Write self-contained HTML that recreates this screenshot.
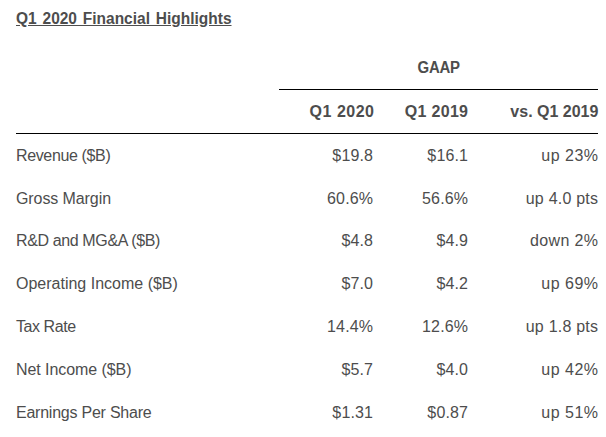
<!DOCTYPE html>
<html>
<head>
<meta charset="utf-8">
<style>
html,body{margin:0;padding:0;background:#fff;width:606px;height:437px;overflow:hidden;}
body{position:relative;font-family:"Liberation Sans",sans-serif;color:#4d4d4d;font-size:16px;}
.t{position:absolute;white-space:nowrap;line-height:20px;height:20px;}
.b{font-weight:bold;}
.r{text-align:right;}
.line{position:absolute;height:1px;background:#000;}
</style>
</head>
<body>
<div class="t b" style="left:15.5px;top:8.5px;word-spacing:1.6px;transform:scaleX(0.968);transform-origin:0 10px;text-decoration:underline;">Q1 2020 Financial Highlights</div>
<div class="t b" style="left:278.6px;width:319px;text-align:center;top:57.5px;letter-spacing:-0.3px;text-indent:0.3px;transform:scaleX(0.935);transform-origin:159.5px 10px;">GAAP</div>
<div class="line" style="left:279px;width:319px;top:89px;"></div>
<div class="t r b" style="right:231.50px;top:101.5px;letter-spacing:0.5px;">Q1 2020</div>
<div class="t r b" style="right:137.67px;top:101.5px;letter-spacing:0.33px;">Q1 2019</div>
<div class="t r b" style="right:7.60px;top:101.5px;">vs. Q1 2019</div>
<div class="line" style="left:16px;width:582px;top:133px;"></div>
<div class="t" style="left:16px;top:145.5px;letter-spacing:-0.36px;">Revenue ($B)</div>
<div class="t r" style="right:232.85px;top:145.5px;letter-spacing:0.15px;">$19.8</div>
<div class="t r" style="right:137.85px;top:145.5px;letter-spacing:0.15px;">$16.1</div>
<div class="t r" style="right:7.50px;top:145.5px;letter-spacing:0.5px;">up 23%</div>
<div class="t" style="left:16px;top:188.5px;letter-spacing:-0.09px;">Gross Margin</div>
<div class="t r" style="right:232.85px;top:188.5px;letter-spacing:0.15px;">60.6%</div>
<div class="t r" style="right:137.85px;top:188.5px;letter-spacing:0.15px;">56.6%</div>
<div class="t r" style="right:7.78px;top:188.5px;letter-spacing:0.22px;">up 4.0 pts</div>
<div class="t" style="left:16px;top:231px;letter-spacing:-0.375px;">R&amp;D and MG&amp;A ($B)</div>
<div class="t r" style="right:232.85px;top:231px;letter-spacing:0.15px;">$4.8</div>
<div class="t r" style="right:137.85px;top:231px;letter-spacing:0.15px;">$4.9</div>
<div class="t r" style="right:7.63px;top:231px;letter-spacing:0.37px;">down 2%</div>
<div class="t" style="left:16px;top:274px;">Operating Income ($B)</div>
<div class="t r" style="right:232.85px;top:274px;letter-spacing:0.15px;">$7.0</div>
<div class="t r" style="right:137.85px;top:274px;letter-spacing:0.15px;">$4.2</div>
<div class="t r" style="right:7.50px;top:274px;letter-spacing:0.5px;">up 69%</div>
<div class="t" style="left:16px;top:317px;letter-spacing:-0.43px;">Tax Rate</div>
<div class="t r" style="right:232.85px;top:317px;letter-spacing:0.15px;">14.4%</div>
<div class="t r" style="right:137.85px;top:317px;letter-spacing:0.15px;">12.6%</div>
<div class="t r" style="right:7.78px;top:317px;letter-spacing:0.22px;">up 1.8 pts</div>
<div class="t" style="left:16px;top:360px;letter-spacing:-0.07px;">Net Income ($B)</div>
<div class="t r" style="right:232.85px;top:360px;letter-spacing:0.15px;">$5.7</div>
<div class="t r" style="right:137.85px;top:360px;letter-spacing:0.15px;">$4.0</div>
<div class="t r" style="right:7.50px;top:360px;letter-spacing:0.5px;">up 42%</div>
<div class="t" style="left:16px;top:402.5px;letter-spacing:-0.235px;">Earnings Per Share</div>
<div class="t r" style="right:232.85px;top:402.5px;letter-spacing:0.15px;">$1.31</div>
<div class="t r" style="right:137.85px;top:402.5px;letter-spacing:0.15px;">$0.87</div>
<div class="t r" style="right:7.50px;top:402.5px;letter-spacing:0.5px;">up 51%</div>
</body>
</html>
